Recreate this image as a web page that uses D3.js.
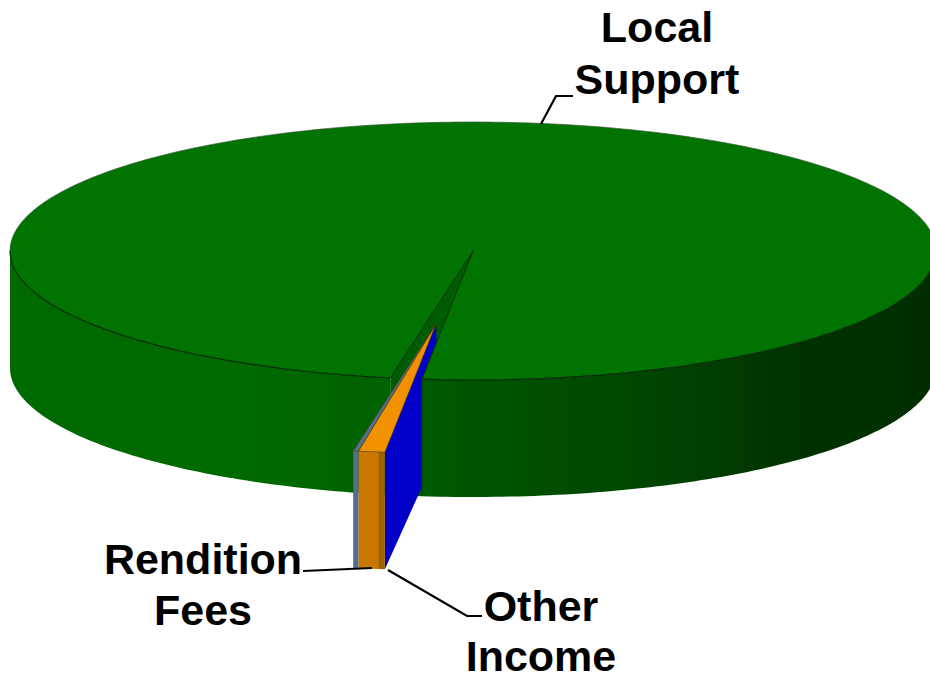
<!DOCTYPE html>
<html>
<head>
<meta charset="utf-8">
<script src="https://cdn.jsdelivr.net/npm/d3@7"></script>
<style>
html,body{margin:0;padding:0;background:#fff;overflow:hidden}
svg{display:block}
text{font-family:"Liberation Sans",Arial,sans-serif;font-weight:bold;font-size:43px;fill:#000;text-anchor:middle}
</style>
</head>
<body>
<svg id="c" width="930" height="675" viewBox="0 0 930 675"></svg>
<script>
const categories = ["Local Support", "Rendition Fees", "Other Income"];
const values = [98.9, 0.92, 0.18];
const topColors = ["#007300", "#f29100", "#4f6f8f"];
const frontColors = ["#006600", "#c87800", "#4f6f8f"];
const faceColor = "#0000c8";
const labelLines = [["Local", "Support"], ["Rendition", "Fees"], ["Other", "Income"]];
const labelPos = [[657, 42, 52], [203, 574, 51], [541, 621, 50]];
const leaders = [
  [[541,124],[556,96],[573,96]],
  [[303,571],[372,568]],
  [[388,570],[467,616],[482,616]]
];

const W = 930, H = 675;
const svg = d3.select("#c");
const defs = svg.append("defs");
defs.append("filter").attr("id","soft").attr("x","-5%").attr("y","-5%").attr("width","110%").attr("height","110%")
  .append("feGaussianBlur").attr("stdDeviation",0.7);

const wallGrad = defs.append("linearGradient").attr("id","wall")
  .attr("gradientUnits","userSpaceOnUse").attr("x1",10).attr("x2",936).attr("y1",0).attr("y2",0);
[[0,"#006b00"],[0.2,"#006b00"],[0.41,"#006200"],[0.45,"#005a00"],[0.65,"#004800"],[0.85,"#003300"],[1,"#002e00"]]
  .forEach(d => wallGrad.append("stop").attr("offset",d[0]).attr("stop-color",d[1]));
const orGrad = defs.append("linearGradient").attr("id","orFront")
  .attr("gradientUnits","userSpaceOnUse").attr("x1",353).attr("x2",387).attr("y1",0).attr("y2",0);
[[0,"#c87800"],[0.74,"#c87800"],[0.76,"#a06200"],[1,"#a06200"]]
  .forEach(d => orGrad.append("stop").attr("offset",d[0]).attr("stop-color",d[1]));

// Ellipse projection of the pie
const xs = d3.scaleLinear().domain([-1,1]).range([10,936]);
const ys = d3.scaleLinear().domain([-1,1]).range([122,380]);
const depth = 117;
const explode = [-37, 73];
const rad = d => d * Math.PI / 180;

// pie: clockwise from 12 o'clock, Local Support starting just left of the bottom
const start = rad(190.3);
const arcs = d3.pie().sort(null).startAngle(start).endAngle(start + 2*Math.PI)(values);

const px = (a, r=1) => xs(r*Math.sin(a));
const py = (a, r=1) => ys(-r*Math.cos(a));
const rim = (a0, a1, dx=0, dy=0) => {
  const n = Math.max(2, Math.ceil(Math.abs(a1-a0)/rad(1)));
  return d3.range(n+1).map(i => {
    const a = a0 + (a1-a0)*i/n;
    return [px(a)+dx, py(a)+dy];
  });
};
const line = d3.line();
const poly = pts => line(pts) + "Z";
const cx = px(0,0), cy = py(0,0);

const g = svg.append("g").attr("filter","url(#soft)");
const edge = "#0a2a0a";

const main = arcs[0];
const a0 = main.startAngle, a1 = main.endAngle;
const frontStart = rad(270), frontEnd = rad(90 + 360);

// dark inner notch, running down the cut faces of the main slice
g.append("path").attr("d", poly([[cx,cy],[px(a1),py(a1)],[px(a1),py(a1)+depth],[px(a0),py(a0)+depth],[px(a0),py(a0)]]))
  .attr("fill","#005c00");

// left part of the front wall
const leftTop = rim(a0, frontStart);
g.append("path").attr("d", poly(leftTop.concat(leftTop.map(p=>[p[0],p[1]+depth]).reverse())))
  .attr("fill","url(#wall)");

// blue cut face of the pulled-out slices
const ex = explode[0], ey = explode[1];
const apex = [cx+ex, cy+ey];
const seam = arcs[1].startAngle;
const outerR = [px(seam)+ex, py(seam)+ey];
g.append("path").attr("d", poly([apex, outerR, [outerR[0],outerR[1]+depth], [apex[0]+4,apex[1]+depth+6]]))
  .attr("fill",faceColor);

// right part of the front wall
const rightTop = rim(frontEnd, a1);
g.append("path").attr("d", poly(rightTop.concat(rightTop.map(p=>[p[0],p[1]+depth]).reverse())))
  .attr("fill","url(#wall)");
const rEnd = rightTop[rightTop.length-1];
g.append("path").attr("d", line([rEnd,[rEnd[0],rEnd[1]+depth]]))
  .attr("stroke","#003a00").attr("stroke-width",1).attr("fill","none");

// top of the main slice
g.append("path").attr("d", poly([[cx,cy]].concat(rim(a0,a1)))).attr("fill",topColors[0]);
// back rim is faint, front rim is dark
g.append("path").attr("d", line(rim(rad(270), rad(450)))).attr("fill","none").attr("stroke","#3a5a3a").attr("stroke-width",0.7);
[[a0, rad(270)], [rad(450), a1]].forEach(r =>
  g.append("path").attr("d", line(rim(r[0], r[1]))).attr("fill","none").attr("stroke",edge).attr("stroke-width",1.2));
g.append("path").attr("d", line([[px(a0),py(a0)],[cx,cy],[px(a1),py(a1)]])).attr("fill","none").attr("stroke",edge).attr("stroke-width",1);

// pulled-out slices: front walls then tops
[1,2].forEach(i => {
  const a = arcs[i];
  const t = rim(a.startAngle, a.endAngle, ex, ey);
  g.append("path").attr("d", poly(t.concat(t.map(p=>[p[0],p[1]+depth]).reverse())))
    .attr("fill", i===1 ? "url(#orFront)" : frontColors[i]);
  g.append("path").attr("d", poly([apex].concat(t)))
    .attr("fill", topColors[i]).attr("stroke","#5a3a00").attr("stroke-width",0.6);
});

// leaders
svg.append("g").selectAll("path").data(leaders).join("path")
  .attr("d", d => line(d)).attr("fill","none").attr("stroke","#000").attr("stroke-width",2.2);

// labels
labelLines.forEach((ls,i) => {
  const [x,y,lh] = labelPos[i];
  ls.forEach((s,j) => svg.append("text").attr("x",x).attr("y",y+j*lh).text(s));
});
</script>
</body>
</html>
